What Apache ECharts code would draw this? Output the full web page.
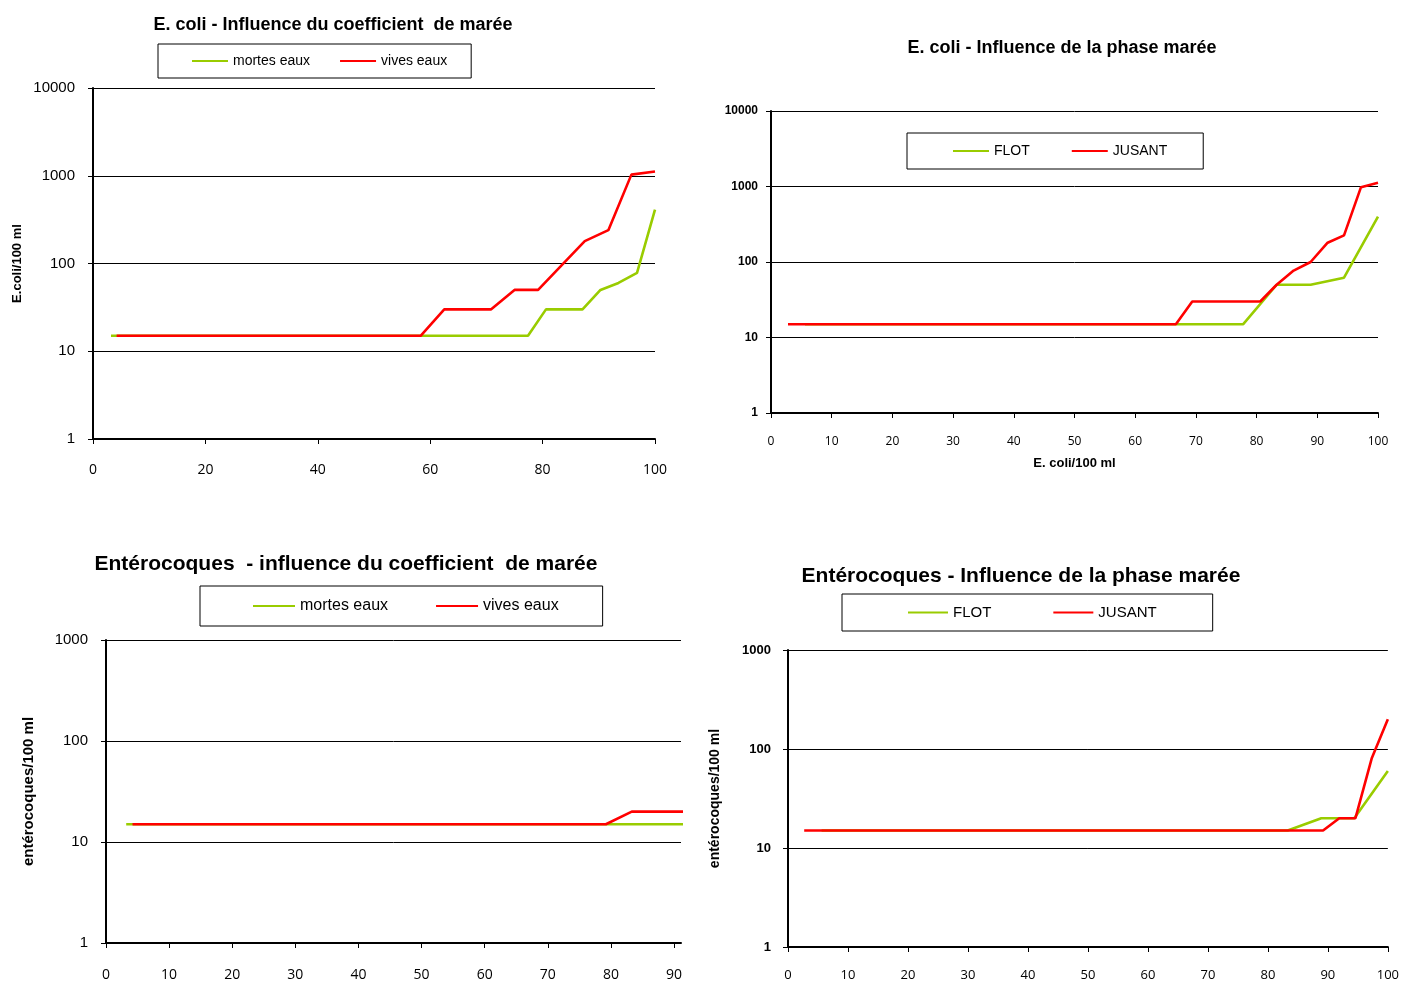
<!DOCTYPE html>
<html><head><meta charset="utf-8">
<script src="https://cdn.jsdelivr.net/npm/echarts@6/dist/echarts.min.js"></script>
<style>html,body{margin:0;padding:0;background:#fff}#c{width:1402px;height:982px}</style>
</head><body><div id="c"></div>
<script>
// E. coli - coefficient de marée (x = %, y = E.coli/100 ml)
const ecMortes = [[3.2,15],[77.4,15],[80.6,30],[87.1,30],[90.3,50],[93.5,60],[96.8,78],[100,410]];
const ecVives = [[4.2,15],[58.3,15],[62.5,30],[70.8,30],[75,50],[79.2,50],[87.5,180],[91.7,240],[95.8,1030],[100,1120]];
// E. coli - phase marée
const ecFlot = [[5.6,15],[77.8,15],[83.3,50],[88.9,50],[94.4,62],[100,400]];
const ecJusant = [[2.8,15],[66.7,15],[69.4,30],[80.6,30],[83.3,50],[86.1,77],[88.9,100],[91.7,180],[94.4,225],[97.2,980],[100,1120]];
// Entérocoques - coefficient de marée
const entMortes = [[3.2,15],[100,15]];
const entVives = [[4.2,15],[79.2,15],[83.3,20],[100,20]];
// Entérocoques - phase marée
const entFlot = [[5.6,15],[83.3,15],[88.9,20],[94.4,20],[100,60]];
const entJusant = [[2.7,15],[89.2,15],[91.9,20],[94.6,20],[97.3,80],[100,200]];

const titles = ['E. coli - Influence du coefficient  de marée','E. coli - Influence de la phase marée','Entérocoques  - influence du coefficient  de marée','Entérocoques - Influence de la phase marée'];
const coefNames = ['mortes eaux','vives eaux'];
const phaseNames = ['FLOT','JUSANT'];

const GREEN = '#99cc00', RED = '#ff0000';
const FF = 'Liberation Sans, Arial, sans-serif';

const chart = echarts.init(document.getElementById('c'));

function xAx(gi, max, interval, fs, margin, name){
  return {type:'value', gridIndex:gi, min:0, max:max, interval:interval,
    axisLine:{show:true, onZero:false, lineStyle:{color:'#000', width:2}},
    axisTick:{show:true, length:5, lineStyle:{color:'#000'}},
    splitLine:{show:false},
    axisLabel:{color:'#000', fontSize:fs, fontFamily:'Open Sans, sans-serif', margin:margin},
    name:name||'', nameLocation:'middle', nameGap:44,
    nameTextStyle:{color:'#000', fontWeight:'bold', fontSize:13, fontFamily:FF}};
}
function yAx(gi, max, fs, bold, margin, name, nameFs, nameGap){
  return {type:'log', logBase:10, gridIndex:gi, min:1, max:max,
    axisLine:{show:true, lineStyle:{color:'#000', width:2}},
    axisTick:{show:true, length:5, lineStyle:{color:'#000'}},
    minorTick:{show:false},
    splitLine:{show:true, lineStyle:{color:'#000', width:1}},
    axisLabel:{color:'#000', fontSize:fs, fontWeight:bold?'bold':'normal', fontFamily:FF, margin:margin, formatter:function(v){return String(Math.round(v));}},
    name:name||'', nameLocation:'middle', nameGap:nameGap, nameRotate:90,
    nameTextStyle:{color:'#000', fontWeight:'bold', fontSize:nameFs, fontFamily:FF}};
}
function leg(names, left, top, pad, fs, iw, gap){
  return {data:names, left:left, top:top, orient:'horizontal', padding:pad,
    icon:'rect', itemWidth:iw, itemHeight:2, itemGap:gap,
    borderColor:'#000', borderWidth:1, backgroundColor:'#fff',
    textStyle:{color:'#000', fontSize:fs, fontFamily:FF}, selectedMode:false};
}
function ser(name, gi, data, color){
  return {type:'line', name:name, xAxisIndex:gi, yAxisIndex:gi, data:data,
    symbol:'none', showSymbol:false, clip:true, color:color,
    lineStyle:{color:color, width:2.6}, animation:false};
}
function ttl(text, x, y, fs){
  return {type:'text', x:x, y:y, style:{text:text, fill:'#000', font:'bold '+fs+'px '+FF, textAlign:'center', textVerticalAlign:'middle'}};
}

chart.setOption({
  animation:false,
  grid:[
    {left:93, top:88, width:562, height:351},
    {left:771, top:111, width:607, height:302},
    {left:106, top:640, width:575, height:303},
    {left:788, top:650, width:600, height:298}
  ],
  xAxis:[
    xAx(0,100,20,14,24),
    xAx(1,100,10,12,23,'E. coli/100 ml'),
    xAx(2,91.1,10,14,25),
    xAx(3,100,10,13,22)
  ],
  yAxis:[
    yAx(0,10000,15,false,18,'E.coli/100 ml',13,69),
    yAx(1,10000,12,true,13,'',11,60),
    yAx(2,1000,15,false,18,'entérocoques/100 ml',15,70),
    yAx(3,1000,13,true,17,'entérocoques/100 ml',14,66)
  ],
  legend:[
    leg(coefNames,158,44,[10,24,10,34],14,36,30),
    leg(phaseNames,907,133,[11,36,11,46],14,36,42),
    leg(coefNames,200,586,[12,44,12,53],16,42,48),
    leg(phaseNames,842,594,[11,56,11,66],15,40,62)
  ],
  graphic:[
    ttl(titles[0],333,25,18),
    ttl(titles[1],1062,48,18),
    ttl(titles[2],346,564,21),
    ttl(titles[3],1021,576,21)
  ],
  series:[
    ser(coefNames[0],0,ecMortes,GREEN),
    ser(coefNames[1],0,ecVives,RED),
    ser(phaseNames[0],1,ecFlot,GREEN),
    ser(phaseNames[1],1,ecJusant,RED),
    ser(coefNames[0],2,entMortes,GREEN),
    ser(coefNames[1],2,entVives,RED),
    ser(phaseNames[0],3,entFlot,GREEN),
    ser(phaseNames[1],3,entJusant,RED)
  ]
});
</script></body></html>
